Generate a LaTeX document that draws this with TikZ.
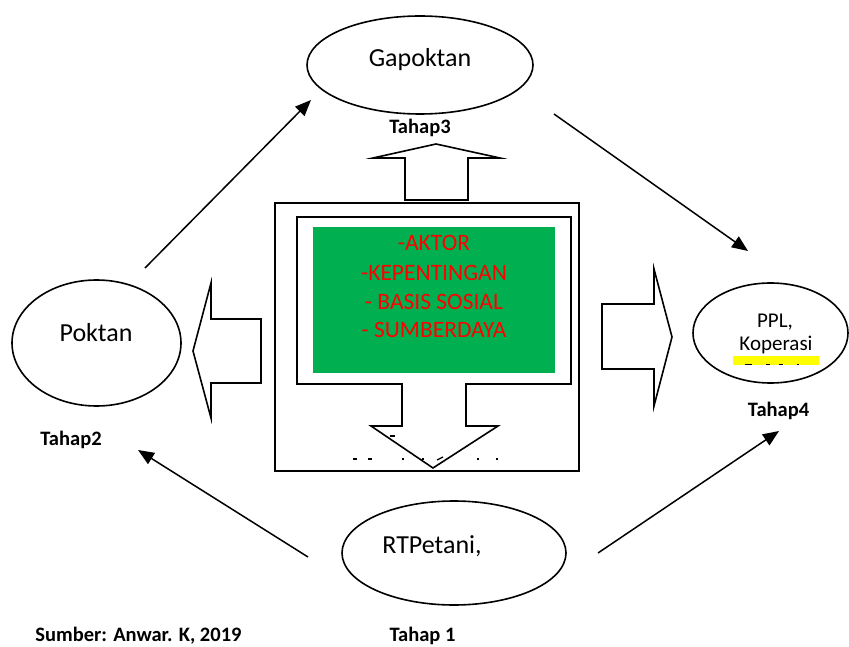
\documentclass[tikz,border=0pt]{standalone}
\usepackage{fontspec}
\setmainfont{Carlito}
\usetikzlibrary{shapes.geometric,arrows.meta}
\definecolor{boxgreen}{HTML}{00B050}
\definecolor{hlyellow}{HTML}{FFFF00}
\begin{document}
\begin{tikzpicture}[x=1pt,y=-1pt,
  oval/.style={draw, ellipse, line width=1.6pt, inner sep=0pt},
  lbl/.style={font=\fontsize{20.5}{24}\selectfont\bfseries, anchor=base, inner sep=0pt},
  big/.style={font=\fontsize{26}{31}\selectfont, anchor=base, inner sep=0pt},
  small/.style={font=\fontsize{21}{23}\selectfont, anchor=base, inner sep=0pt},
  redtxt/.style={font=\fontsize{23.5}{29}\selectfont, text=red, anchor=base, inner sep=0pt},
  conn/.style={line width=1.5pt, -{Triangle[length=16pt,width=13pt]}},
  blockarrow/.style={draw, line width=1.6pt, fill=white, line join=miter},
  frag/.style={line width=1.2pt},
]
\useasboundingbox (0,0) rectangle (849,647);

% ellipses
\node[oval, minimum width=226pt, minimum height=98pt] (gap) at (420,65) {};
\node[oval, minimum width=169pt, minimum height=126pt] (pok) at (96.5,343) {};
\node[oval, minimum width=224pt, minimum height=104pt] (rtp) at (454,553) {};
\node[oval, minimum width=155pt, minimum height=100pt] (ppl) at (770.5,333) {};

\node[big] (tgap) at (420,66.7) {Gapoktan};
\node[big] (tpok) at (96,341) {Poktan};
\node[big] (trtp) at (432,553) {RTPetani,};

% PPL text
\fill[hlyellow] (733,356) rectangle (819,365);
\node[small] (tppl1) at (775,327) {PPL,};
\node[small] (tppl2) at (776,350) {Koperasi};
\draw[frag] (745,364.6) -- (752,364.6);
\draw[frag] (766,364.6) -- (770,364.6);
\draw[frag] (779,364.6) -- (783,364.6);
\draw[frag] (797,364.6) -- (799,364.6);

% labels
\node[lbl] (t3) at (420,134) {Tahap3};
\node[lbl] (t2) at (71,445) {Tahap2};
\node[lbl] (t4) at (778.5,416.5) {Tahap4};
\node[lbl] (t1) at (422.5,641) {Tahap 1};
\node[lbl] (src) at (138.5,641) {Sumber: Anwar. K, 2019};

% central structure
\draw[line width=1.8pt] (275,203) rectangle (579,471);
\draw[blockarrow] (297,217) -- (571,217) -- (571,384) -- (466,384) -- (466,426)
  -- (498,426) -- (433,468) -- (371,426) -- (402,426) -- (402,384) -- (297,384) -- cycle;
\fill[boxgreen] (313,227) rectangle (555,373);
\node[redtxt] (r1) at (434,250.7) {-AKTOR};
\node[redtxt] (r2) at (434,280) {-KEPENTINGAN};
\node[redtxt] (r3) at (434,309.3) {- BASIS SOSIAL};
\node[redtxt] (r4) at (434,337.7) {- SUMBERDAYA};

% clipped text fragments in down arrow
\draw[frag] (353,459) -- (357,459);
\draw[frag] (368,459) -- (372,459);
\draw[frag] (402,459) -- (404,459);
\draw[frag] (422,459) -- (424,459);
\draw[frag] (437,460) -- (443,457);
\draw[frag] (477,459) -- (479,459);
\draw[frag] (496,459) -- (498,459);
\draw[frag] (390,436) -- (395,436);

% block arrows
\draw[blockarrow] (405,200) -- (405,158) -- (373,158) -- (436,144) -- (500,158)
  -- (468,158) -- (468,200) -- cycle;
\draw[blockarrow] (261,319) -- (211,319) -- (211,283) -- (193,351) -- (211,418)
  -- (211,383) -- (261,383) -- cycle;
\draw[blockarrow] (602,304) -- (654,304) -- (654,269) -- (672,337) -- (654,406)
  -- (654,369) -- (602,369) -- cycle;

% connectors
\coordinate (a1s) at (145,268); \coordinate (a1e) at (311,100);
\coordinate (a2s) at (554,114); \coordinate (a2e) at (748,251);
\coordinate (a3s) at (308,557); \coordinate (a3e) at (138,450);
\coordinate (a4s) at (598,553); \coordinate (a4e) at (779,431);
\draw[conn] (a1s) -- (a1e);
\draw[conn] (a2s) -- (a2e);
\draw[conn] (a3s) -- (a3e);
\draw[conn] (a4s) -- (a4e);
\end{tikzpicture}
\end{document}
